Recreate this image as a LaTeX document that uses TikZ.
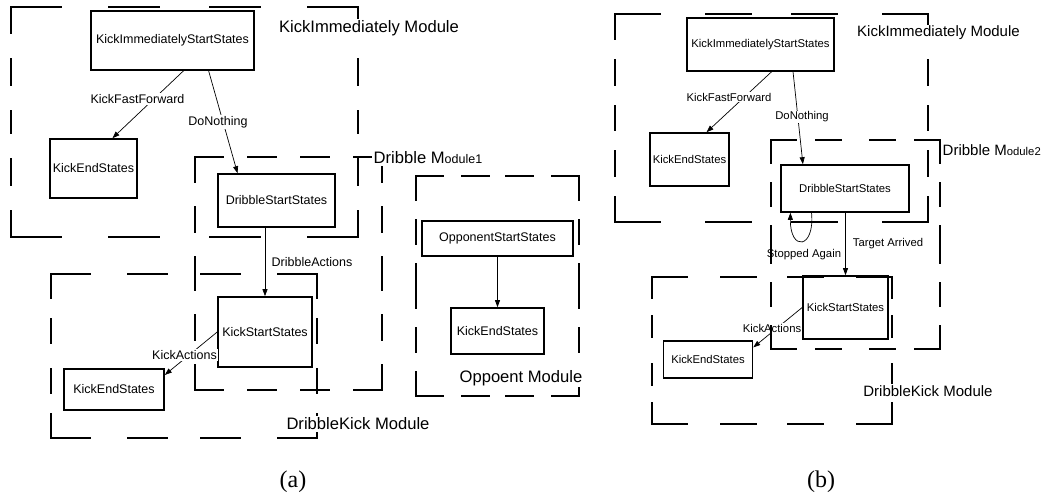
\documentclass[tikz,border=0pt]{standalone}
\usepackage{fontspec}
\setmainfont{Liberation Sans}
\newfontfamily\capfont{Liberation Serif}
\usetikzlibrary{arrows.meta}

% dashed module frame: h-pattern, v-pattern, x1, y1, x2, y2
% every side is drawn from both corners towards its middle
\newcommand{\modframe}[6]{%
  \draw[frameline,dash pattern=#1] (#3,#4) -- ({(#3+#5)/2},#4);
  \draw[frameline,dash pattern=#1] (#5,#4) -- ({(#3+#5)/2},#4);
  \draw[frameline,dash pattern=#1] (#3,#6) -- ({(#3+#5)/2},#6);
  \draw[frameline,dash pattern=#1] (#5,#6) -- ({(#3+#5)/2},#6);
  \draw[frameline,dash pattern=#2] (#3,#4) -- (#3,{(#4+#6)/2});
  \draw[frameline,dash pattern=#2] (#3,#6) -- (#3,{(#4+#6)/2});
  \draw[frameline,dash pattern=#2] (#5,#4) -- (#5,{(#4+#6)/2});
  \draw[frameline,dash pattern=#2] (#5,#6) -- (#5,{(#4+#6)/2});
}

\tikzset{
  statebox/.style={draw, line width=1.6pt, inner sep=0pt, align=center},
  fonta/.style={font=\fontsize{12.5}{14}\selectfont},
  fontb/.style={font=\fontsize{11.3}{13}\selectfont},
  conn/.style={line width=0.7pt, -{Triangle[length=7pt,width=5pt]}},
  elabel/.style={fill=white, inner sep=1pt},
  frameline/.style={line width=1.7pt, line cap=rect},
  modlabel/.style={fill=white, inner sep=1.5pt},
}

\begin{document}
\begin{tikzpicture}[x=1pt,y=-1pt]
\useasboundingbox (0,0) rectangle (1045,500);

% ---------------- panel (a) ----------------
\begin{scope}[fonta]
\node[statebox, minimum width=163pt, minimum height=59pt] (kissA) at (172.5,40.5) {KickImmediatelyStartStates};
\node[statebox, minimum width=87pt,  minimum height=59pt] (keA1)  at (93.5,168.5)  {KickEndStates};
\node[statebox, minimum width=117pt, minimum height=53pt] (dssA)  at (276.5,200.5) {DribbleStartStates};
\node[statebox, minimum width=94pt,  minimum height=70pt] (kssA)  at (265,332)     {KickStartStates};
\node[statebox, minimum width=100pt, minimum height=41pt] (keA2)  at (114,389.5)   {KickEndStates};
\node[statebox, minimum width=151pt, minimum height=35pt] (ossA)  at (497.5,238.5) {OpponentStartStates};
\node[statebox, minimum width=93pt,  minimum height=46pt] (keA3)  at (497.5,331)   {KickEndStates};

\draw[conn] (kissA.-70) -- (keA1.58);
\draw[conn] (kissA.-40) -- (dssA.145);
\draw[conn] (dssA.south -| kssA.north) -- (kssA.north);
\draw[conn] (kssA.west) -- (keA2.16);
\draw[conn] (ossA.south) -- (keA3.north);

\node[elabel] (lffA) at (137.5,99) {KickFastForward};
\node[elabel] (ldnA) at (218,122)  {DoNothing};
\node[elabel] (ldaA) at (312,262)  {DribbleActions};
\node[elabel] (lkaA) at (184.5,355) {KickActions};
\end{scope}

\modframe{on 50pt off 48pt}{on 26pt off 26pt}{11}{7}{358}{237}
\modframe{on 28pt off 25pt}{on 25pt off 25pt}{195}{157}{382}{390}
\modframe{on 39pt off 38pt}{on 24pt off 21pt}{51}{274}{317}{438}
\modframe{on 27pt off 19pt}{on 24pt off 20pt}{416}{176}{579}{396}

\begin{scope}[font=\fontsize{16.6}{18}\selectfont]
\node[modlabel] (mkiA) at (369,28)  {KickImmediately Module};
\node[modlabel, anchor=west] (mdrA) at (372,158) {Dribble M\fontsize{12.5}{14}\selectfont odule1};
\node[modlabel] (mdkA) at (358,424) {DribbleKick Module};
\node[modlabel] (mopA) at (521,378) {Oppoent Module};
\end{scope}

% ---------------- panel (b) ----------------
\begin{scope}[fontb]
\node[statebox, minimum width=147pt, minimum height=53pt] (kissB) at (760.5,44.5) {KickImmediatelyStartStates};
\node[statebox, minimum width=79pt,  minimum height=53pt] (keB1)  at (689.5,159.5) {KickEndStates};
\node[statebox, minimum width=128pt, minimum height=47pt] (dssB)  at (845,188.5)   {DribbleStartStates};
\node[statebox, minimum width=85pt,  minimum height=63pt] (kssB)  at (845.5,307.5) {KickStartStates};
\node[statebox, minimum width=89pt,  minimum height=37pt] (keB2)  at (708,359.5)   {KickEndStates};

\draw[conn] (kissB.-68) -- (keB1.58);
\draw[conn] (kissB.-40) -- (dssB.150);
\draw[conn] (dssB.south -| kssB.north) -- (kssB.north);
\node[elabel] (lsaB) at (804,255) {Stopped Again};
\draw[conn] (dssB.216) .. controls (815,249) and (790,252) .. (dssB.204);
\draw[conn] (kssB.west) -- (keB2.15);

\node[elabel] (lffB) at (729,97)  {KickFastForward};
\node[elabel] (ldnB) at (802,117) {DoNothing};
\node[elabel] (ltaB) at (888,244) {Target Arrived};
\node[elabel] (lkaB) at (772,328) {KickActions};
\end{scope}

\modframe{on 45pt off 46pt}{on 25pt off 21pt}{615}{14}{928}{222}
\modframe{on 25pt off 20pt}{on 23pt off 20pt}{771}{140}{940}{349}
\modframe{on 35pt off 34pt}{on 21pt off 18pt}{652}{277}{892}{424}

\begin{scope}[font=\fontsize{15}{17}\selectfont]
\node[modlabel] (mkiB) at (938.5,33) {KickImmediately Module};
\node[modlabel, anchor=west] (mdrB) at (941,150) {Dribble M\fontsize{11.3}{13}\selectfont odule2};
\node[modlabel] (mdkB) at (928,391) {DribbleKick Module};
\end{scope}

% captions
\node[font=\capfont\fontsize{24}{26}\selectfont] (capA) at (293,482) {(a)};
\node[font=\capfont\fontsize{24}{26}\selectfont] (capB) at (821,482) {(b)};
\end{tikzpicture}
\end{document}
